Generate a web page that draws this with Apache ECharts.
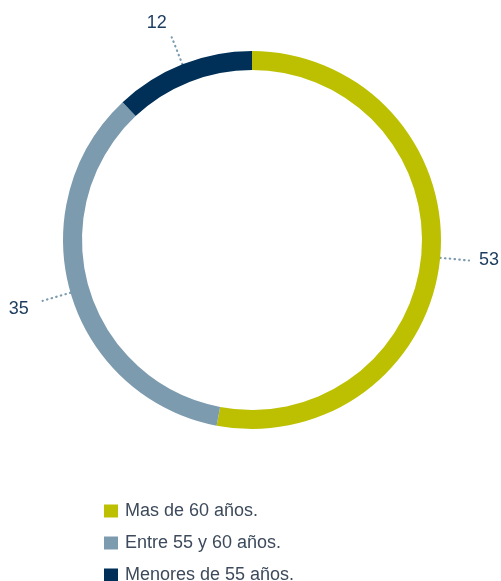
<!DOCTYPE html>
<html><head><meta charset="utf-8">
<script src="https://cdn.jsdelivr.net/npm/echarts@6/dist/echarts.min.js"></script>
<style>html,body{margin:0;padding:0;background:#fff}#c{width:501px;height:581px}</style>
</head><body><div id="c"></div>
<script>
const categories = ['Mas de 60 años.', 'Entre 55 y 60 años.', 'Menores de 55 años.'];
const values = [53, 35, 12];
const colors = ['#BDC000', '#7D9BAF', '#003058'];

const FONT = 'Liberation Sans, Arial, sans-serif';
const labelTweaks = [
  { distanceToLabelLine: 10, formatter: '{v|{c}}' },
  { distanceToLabelLine: 14, formatter: '{s1| }\n{v|{c}}' },
  { distanceToLabelLine: 5, formatter: '{v|{c}}\n{s2| }' }
];

const chart = echarts.init(document.getElementById('c'));
chart.setOption({
  animation: false,
  color: colors,
  legend: {
    orient: 'vertical',
    left: 104,
    top: 502,
    height: 120,
    padding: 0,
    itemWidth: 14,
    itemHeight: 13,
    itemGap: 14,
    icon: 'rect',
    textStyle: { fontFamily: FONT, fontSize: 18, color: '#3d4a5b', padding: [0, 0, 0, 2] },
    data: categories
  },
  series: [{
    type: 'pie',
    center: [252, 240],
    radius: [170, 189],
    startAngle: 90,
    clockwise: true,
    avoidLabelOverlap: false,
    label: {
      show: true,
      fontFamily: FONT,
      fontSize: 18,
      color: '#1b3b5f',
      rich: {
        v: { fontFamily: FONT, fontSize: 18, color: '#1b3b5f', height: 18 },
        s1: { fontSize: 4, height: 16 },
        s2: { fontSize: 4, height: 29 }
      }
    },
    labelLine: {
      show: true,
      length: 29,
      length2: 0,
      lineStyle: { type: [0.5, 4.3], cap: 'round', color: '#7D9BAF', width: 2.2 }
    },
    data: categories.map((n, i) => ({ name: n, value: values[i], label: labelTweaks[i] }))
  }]
});
</script></body></html>
